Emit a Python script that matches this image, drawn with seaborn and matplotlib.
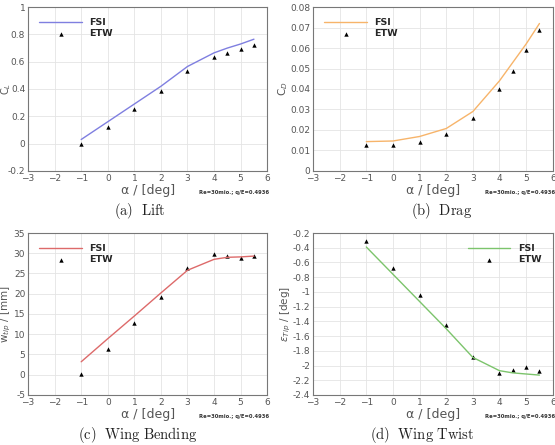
import numpy as np
import pandas as pd
import matplotlib
matplotlib.use("Agg")
import matplotlib.pyplot as plt
from matplotlib.ticker import AutoMinorLocator, MultipleLocator, FuncFormatter
import seaborn as sns

sns.set_theme(style="white")
plt.rcParams['font.family'] = ['DejaVu Sans']
plt.rcParams['mathtext.fontset'] = 'dejavusans'

alpha = [-1, 0, 1, 2, 3, 4, 4.5, 5, 5.5]

lift_fsi = [0.03, 0.16, 0.29, 0.42, 0.565, 0.665, 0.70, 0.73, 0.765]
lift_etw = [0.0, 0.12, 0.25, 0.385, 0.535, 0.635, 0.665, 0.69, 0.72]

drag_fsi = [0.0143, 0.0146, 0.0168, 0.0207, 0.029, 0.044, 0.053, 0.062, 0.072]
drag_etw = [0.0128, 0.0128, 0.0143, 0.018, 0.0256, 0.040, 0.049, 0.059, 0.069]

bend_fsi = [3.2, 8.9, 14.5, 20.2, 25.8, 28.5, 29.0, 29.1, 29.3]
bend_etw = [0.2, 6.4, 12.7, 19.2, 26.3, 29.8, 29.4, 28.9, 29.2]

twist_fsi = [-0.39, -0.76, -1.13, -1.50, -1.89, -2.07, -2.10, -2.115, -2.13]
twist_etw = [-0.31, -0.67, -1.04, -1.45, -1.88, -2.10, -2.06, -2.02, -2.075]

xticks = [-3, -2, -1, 0, 1, 2, 3, 4, 5, 6]
note = "Re=30mio.; q/E=0.4936"

W, H = 555, 445
panels = [
    dict(fsi=lift_fsi, etw=lift_etw, color="#7f7fe0", ylabel=r"C$_L$",
         ylim=(-0.2, 1.0), ystep=0.2, caption=r"$\mathrm{(a)\ \ Lift}$",
         pos=[0.0505, 0.616, 0.431, 0.368], leg="upper left", ylx=-0.061, ylfs=7,
         cap=(140, 211)),
    dict(fsi=drag_fsi, etw=drag_etw, color="#f7b46a", ylabel=r"C$_D$",
         ylim=(0, 0.08), ystep=0.01, caption=r"$\mathrm{(b)\ \ Drag}$",
         pos=[0.564, 0.616, 0.432, 0.368], leg="upper left", ylx=-0.097, ylfs=7.5,
         cap=(442, 211)),
    dict(fsi=bend_fsi, etw=bend_etw, color="#dd6a6a", ylabel=r"w$_{tip}$ / [mm]",
         ylim=(-5, 35), ystep=5, caption=r"$\mathrm{(c)\ \ Wing\ Bending}$",
         pos=[0.0505, 0.1124, 0.431, 0.364], leg="upper left", ylx=-0.062, ylfs=7.5,
         cap=(138, 435)),
    dict(fsi=twist_fsi, etw=twist_etw, color="#7cc46c", ylabel=r"$\varepsilon_{Tip}$ / [deg]",
         ylim=(-2.4, -0.2), ystep=0.2, caption=r"$\mathrm{(d)\ \ Wing\ Twist}$",
         pos=[0.564, 0.1124, 0.432, 0.364], leg="upper right", ylx=-0.082, ylfs=7.5,
         cap=(422, 435)),
]

fig = plt.figure(figsize=(W / 100, H / 100), dpi=100)

for p in panels:
    ax = fig.add_axes(p["pos"])
    df = pd.DataFrame({"alpha": alpha, "FSI": p["fsi"], "ETW": p["etw"]})
    sns.lineplot(data=df, x="alpha", y="FSI", ax=ax, color=p["color"], lw=1.0, label="FSI")
    sns.scatterplot(data=df, x="alpha", y="ETW", ax=ax, color="black", marker="^",
                    s=10, linewidth=0, label="ETW")
    ax.set_xlim(-3, 6)
    ax.set_ylim(*p["ylim"])
    ax.set_xticks(xticks)
    ax.yaxis.set_major_locator(MultipleLocator(p["ystep"]))
    ax.xaxis.set_minor_locator(AutoMinorLocator(5))
    ax.yaxis.set_minor_locator(AutoMinorLocator(4))
    ax.grid(True, which="major", color="#e4e4e4", lw=0.6)
    ax.tick_params(which="both", direction="in", colors="#666666", labelsize=6.5,
                   labelcolor="#555555", pad=2)
    ax.tick_params(which="major", length=3, width=0.6)
    ax.tick_params(which="minor", length=1.5, width=0.5)
    ax.yaxis.set_major_formatter(FuncFormatter(lambda v, _: f"{round(v, 6):g}"))
    for s in ax.spines.values():
        s.set_color("#777777")
        s.set_linewidth(0.8)
    ax.set_xlabel("α / [deg]", fontsize=9, color="#555555", labelpad=1)
    ax.set_ylabel(p["ylabel"], fontsize=p["ylfs"], color="#555555")
    ax.yaxis.set_label_coords(p["ylx"], 0.5)
    ax.legend(loc=p["leg"], frameon=False, handlelength=4.5,
              borderaxespad=0.8, labelspacing=0.2,
              prop={"weight": "bold", "size": 6.8})
    ax.text(1.01, -0.115, note, transform=ax.transAxes, ha="right", va="top",
            fontsize=3.8, fontweight="bold", color="#333333")
    cx, cy = p["cap"]
    fig.text(cx / W, 1 - cy / H, p["caption"], ha="center", va="center",
             fontsize=10.5, math_fontfamily="cm", color="#222222")

fig.savefig("out.png", dpi=100)
